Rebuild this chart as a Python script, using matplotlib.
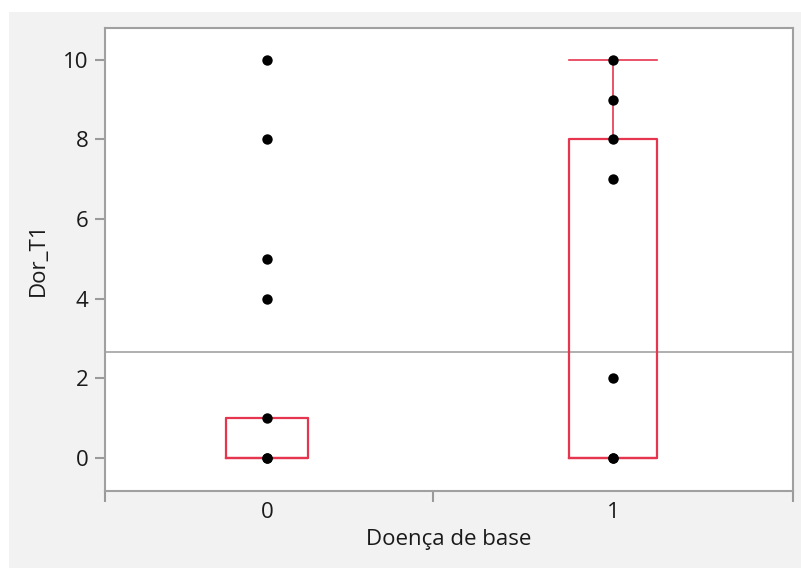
import matplotlib
matplotlib.use("Agg")
import matplotlib.pyplot as plt
from matplotlib.patches import Rectangle

# Groups and observed values
groups = [0, 1]
group_labels = ["0", "1"]
values_g0 = [0, 0, 1, 4, 5, 8, 10]
values_g1 = [0, 0, 2, 7, 8, 9, 10]

# Box summaries per group
q1 = [0, 0]
median = [0, 0]
q3 = [1, 8]
whisker_lo = [0, 0]
whisker_hi = [1, 10]
box_widths = [0.237, 0.254]

grand_mean = 2.67

W, H = 801, 568
fig = plt.figure(figsize=(W / 100, H / 100), dpi=100, facecolor="white")
plt.rcParams["font.family"] = ["Open Sans", "DejaVu Sans"]

# light panel behind the plot
fig.patches.append(Rectangle((9 / W, 0), 1 - 9 / W, (H - 12) / H,
                             transform=fig.transFigure, facecolor="#f2f2f2",
                             edgecolor="none", zorder=-10))

ax = fig.add_axes([105 / W, (H - 491) / H, (793 - 105) / W, (491 - 28) / H])
ax.set_zorder(1)
ax.set_facecolor("white")

box_color = "#e6354f"
stats = []
for i in range(len(groups)):
    stats.append(dict(med=median[i], q1=q1[i], q3=q3[i],
                      whislo=whisker_lo[i], whishi=whisker_hi[i], fliers=[]))
ax.bxp(stats, positions=groups, widths=box_widths, capwidths=box_widths,
       showfliers=False, manage_ticks=False,
       boxprops=dict(color=box_color, linewidth=1.6),
       whiskerprops=dict(color=box_color, linewidth=1.2),
       capprops=dict(color=box_color, linewidth=1.2),
       medianprops=dict(color=box_color, linewidth=1.6))

ax.axhline(grand_mean, color="#9a9a9a", linewidth=1.1, zorder=1)

for g, vals in zip(groups, [values_g0, values_g1]):
    ax.scatter([g] * len(vals), vals, s=56, color="black", zorder=5,
               linewidths=0)

ax.set_xlim(-0.468, 1.52)
ax.set_ylim(-0.83, 10.8)

ax.set_yticks([0, 2, 4, 6, 8, 10])
ax.set_xticks(groups)
ax.set_xticklabels(group_labels)
ax.set_xticks([-0.468, 0.48, 1.52], minor=True)
ax.tick_params(axis="x", which="major", length=0, pad=8, labelsize=16,
               labelcolor="#1a1a1a")
ax.tick_params(axis="x", which="minor", length=8, width=1.5,
               color="#9a9a9a", direction="out")
ax.tick_params(axis="y", length=7, width=1.5, color="#9a9a9a",
               pad=5, labelsize=16, labelcolor="#1a1a1a")

for s in ax.spines.values():
    s.set_color("#a0a0a0")
    s.set_linewidth(1.5)

ax.set_xlabel("Doença de base", fontsize=16, color="#1a1a1a", labelpad=4)
ax.set_ylabel("Dor_T1", fontsize=16, color="#1a1a1a", labelpad=10)

fig.savefig("out.png", dpi=100, facecolor=fig.get_facecolor())
